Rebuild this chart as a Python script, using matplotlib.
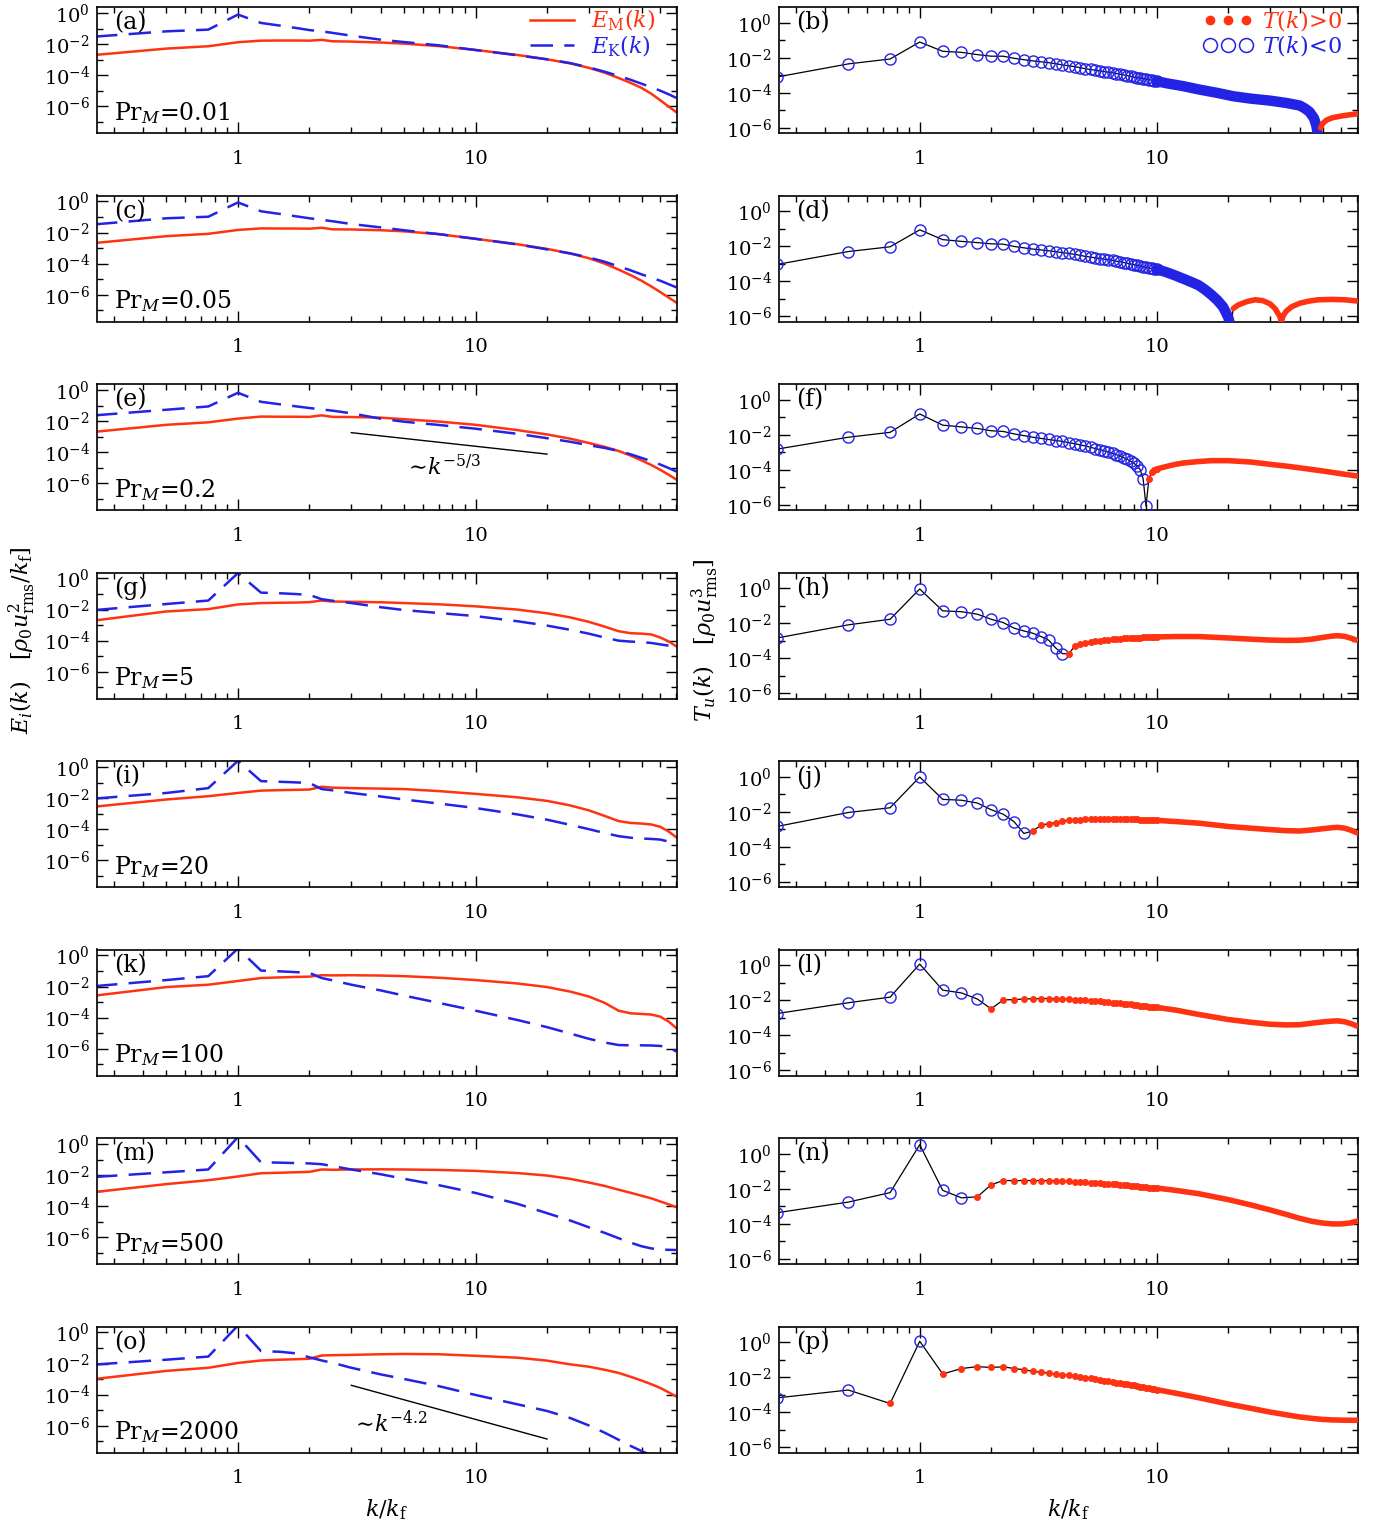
import numpy as np
import matplotlib
matplotlib.use("Agg")
import matplotlib.pyplot as plt
from matplotlib.lines import Line2D
from matplotlib.ticker import FixedLocator, FixedFormatter, LogLocator, NullFormatter, LogFormatterSciNotation

plt.rcParams['font.family'] = ['DejaVu Serif']
plt.rcParams['mathtext.fontset'] = 'dejavuserif'

RED = '#ff3311'
BLUE = '#2323e6'

# ---- left column: spectra, log10 values ----
x_spec = [0.25, 0.5, 0.75, 1, 1.25, 1.5, 1.75, 2, 2.25, 2.5, 3, 4, 5, 7, 10,
          15, 20, 25, 30, 35, 40, 45, 50, 55, 60, 65, 70]

ek_a = [-1.52, -1.18, -1.07, -0.10, -0.64, -0.81, -0.96, -1.10, -1.18, -1.28, -1.46, -1.72, -1.87, -2.08, -2.38,
        -2.72, -2.98, -3.22, -3.50, -3.78, -4.05, -4.30, -4.55, -4.78, -5.00, -5.23, -5.46]
em_a = [-2.70, -2.29, -2.14, -1.88, -1.78, -1.77, -1.77, -1.78, -1.73, -1.82, -1.84, -1.90, -1.97, -2.13, -2.38,
        -2.70, -2.98, -3.24, -3.53, -3.84, -4.18, -4.50, -4.82, -5.20, -5.62, -6.02, -6.38]
ek_c = [-1.47, -1.08, -0.98, -0.06, -0.63, -0.80, -0.95, -1.08, -1.18, -1.27, -1.45, -1.67, -1.85, -2.10, -2.40,
        -2.76, -3.08, -3.34, -3.60, -3.88, -4.17, -4.43, -4.69, -4.90, -5.10, -5.32, -5.52]
em_c = [-2.67, -2.23, -2.08, -1.83, -1.73, -1.74, -1.74, -1.75, -1.69, -1.79, -1.80, -1.85, -1.92, -2.10, -2.40,
        -2.75, -3.05, -3.34, -3.65, -4.00, -4.38, -4.74, -5.10, -5.47, -5.83, -6.18, -6.50]
ek_e = [-1.63, -1.27, -1.06, -0.18, -0.76, -0.92, -1.05, -1.16, -1.25, -1.33, -1.50, -1.85, -2.04, -2.25, -2.49,
        -2.82, -3.10, -3.33, -3.55, -3.73, -3.92, -4.14, -4.37, -4.58, -4.80, -5.02, -5.24]
em_e = [-2.69, -2.24, -2.08, -1.84, -1.71, -1.72, -1.72, -1.73, -1.63, -1.73, -1.74, -1.78, -1.88, -2.03, -2.24,
        -2.58, -2.86, -3.13, -3.41, -3.66, -3.92, -4.22, -4.53, -4.83, -5.14, -5.45, -5.76]
ek_g = [-2.03, -1.64, -1.42, 0.35, -0.91, -0.95, -1.00, -1.06, -1.33, -1.43, -1.58, -1.85, -2.03, -2.22, -2.42,
        -2.75, -3.03, -3.30, -3.55, -3.80, -4.00, -4.06, -4.09, -4.15, -4.24, -4.32, -4.45]
em_g = [-2.70, -2.12, -1.97, -1.67, -1.58, -1.56, -1.55, -1.52, -1.42, -1.48, -1.50, -1.53, -1.58, -1.66, -1.79,
        -2.00, -2.24, -2.50, -2.79, -3.10, -3.39, -3.52, -3.55, -3.60, -3.80, -4.05, -4.36]
ek_i = [-2.03, -1.67, -1.36, 0.40, -0.91, -0.95, -0.99, -1.03, -1.42, -1.50, -1.67, -1.90, -2.09, -2.35, -2.64,
        -3.05, -3.39, -3.72, -4.00, -4.25, -4.45, -4.55, -4.60, -4.63, -4.67, -4.80, -4.97]
em_i = [-2.55, -2.09, -1.88, -1.67, -1.52, -1.49, -1.47, -1.45, -1.27, -1.33, -1.36, -1.39, -1.42, -1.55, -1.73,
        -1.95, -2.18, -2.47, -2.79, -3.15, -3.48, -3.60, -3.64, -3.70, -3.85, -4.15, -4.52]
ek_k = [-1.97, -1.58, -1.33, 0.45, -0.97, -1.02, -1.07, -1.12, -1.45, -1.60, -1.88, -2.25, -2.58, -3.05, -3.55,
        -4.15, -4.61, -5.02, -5.36, -5.60, -5.76, -5.78, -5.78, -5.79, -5.82, -5.90, -6.18]
em_k = [-2.58, -2.03, -1.88, -1.64, -1.45, -1.41, -1.38, -1.36, -1.27, -1.28, -1.27, -1.29, -1.33, -1.43, -1.58,
        -1.80, -2.03, -2.32, -2.64, -3.05, -3.55, -3.72, -3.76, -3.80, -3.94, -4.25, -4.67]
ek_m = [-2.12, -1.82, -1.64, 0.45, -1.18, -1.20, -1.23, -1.25, -1.30, -1.42, -1.64, -1.95, -2.24, -2.65, -3.15,
        -3.85, -4.45, -4.92, -5.36, -5.72, -6.06, -6.35, -6.58, -6.72, -6.79, -6.81, -6.82]
em_m = [-3.09, -2.58, -2.33, -2.09, -1.88, -1.85, -1.82, -1.79, -1.64, -1.66, -1.64, -1.63, -1.64, -1.67, -1.73,
        -1.87, -2.03, -2.24, -2.48, -2.70, -2.94, -3.14, -3.33, -3.50, -3.70, -3.88, -4.06]
ek_o = [-2.06, -1.75, -1.55, 0.45, -1.20, -1.24, -1.34, -1.60, -1.80, -1.95, -2.27, -2.70, -2.99, -3.45, -4.02,
        -4.62, -5.05, -5.50, -5.98, -6.45, -6.90, -7.30, -7.63, -7.90, -8.10, -8.30, -8.50]
em_o = [-2.99, -2.47, -2.27, -1.96, -1.80, -1.75, -1.72, -1.69, -1.48, -1.46, -1.44, -1.40, -1.38, -1.40, -1.50,
        -1.62, -1.81, -2.05, -2.20, -2.40, -2.60, -2.85, -3.09, -3.33, -3.57, -3.85, -4.12]

prm_labels = ['0.01', '0.05', '0.2', '5', '20', '100', '500', '2000']

# power-law guide lines in (e) and (o)
slope_e_x, slope_e_y = [3, 20], [1.8e-3, 7.5e-5]
slope_o_x, slope_o_y = [3, 20], [4.0e-4, 1.4e-7]

# ---- right column: transfer function, log10 |T| ----
# every wavenumber k = 1..40 (kf = 4), then a sparser tail where markers merge
x_tr = np.arange(1, 41) / 4

tr_b = [-3.09, -2.34, -2.06, -1.09, -1.62, -1.68, -1.81, -1.90, -1.90, -2.02,
        -2.10, -2.17, -2.22, -2.27, -2.33, -2.40, -2.45, -2.50, -2.55, -2.62,
        -2.66, -2.70, -2.74, -2.78, -2.82, -2.85, -2.89, -2.93, -2.97, -3.01,
        -3.05, -3.09, -3.12, -3.15, -3.18, -3.21, -3.24, -3.27, -3.30, -3.33]
sg_b = '-' * 40
tx_b = [11, 13, 15, 18, 21, 25, 30, 35, 40, 42, 44, 46, 47, 48, 49, 50, 52, 55, 60, 65, 70]
tt_b = [-3.45, -3.62, -3.80, -4.00, -4.19, -4.33, -4.44, -4.57, -4.72, -4.88, -5.08, -5.45, -5.85, -6.60,
        -6.00, -5.75, -5.55, -5.42, -5.32, -5.25, -5.20]
ts_b = '-' * 14 + '+' * 7

tr_d = [-3.03, -2.29, -2.02, -1.05, -1.61, -1.71, -1.78, -1.85, -1.87, -2.00,
        -2.08, -2.15, -2.20, -2.25, -2.30, -2.35, -2.40, -2.45, -2.51, -2.57,
        -2.61, -2.65, -2.69, -2.73, -2.76, -2.80, -2.84, -2.88, -2.92, -2.96,
        -3.00, -3.04, -3.08, -3.12, -3.16, -3.20, -3.23, -3.26, -3.28, -3.30]
sg_d = '-' * 40
tx_d = [11, 12, 13, 14, 15, 16, 17, 18, 19, 19.5, 20, 20.5, 21, 22, 24, 26, 28, 30, 31.5, 33,
        33.5, 34, 35, 37, 40, 44, 48, 55, 62, 70]
tt_d = [-3.48, -3.67, -3.86, -4.04, -4.22, -4.48, -4.77, -5.08, -5.45, -5.75, -6.05, -6.60,
        -5.55, -5.35, -5.15, -5.05, -5.10, -5.28, -5.55, -6.00, -6.30, -6.00, -5.72, -5.45,
        -5.25, -5.12, -5.05, -5.03, -5.05, -5.12]
ts_d = '-' * 12 + '+' * 18

tr_f = [-2.81, -2.13, -1.85, -0.80, -1.44, -1.54, -1.63, -1.76, -1.80, -1.94,
        -2.04, -2.13, -2.20, -2.26, -2.32, -2.37, -2.44, -2.50, -2.57, -2.63,
        -2.70, -2.78, -2.84, -2.91, -2.98, -3.06, -3.13, -3.20, -3.30, -3.39,
        -3.50, -3.61, -3.78, -3.98, -4.50, -6.06, -4.54, -4.13, -4.02, -3.94]
sg_f = '-' * 36 + '+' * 4
tx_f = [11, 12, 13, 15, 17, 20, 25, 30, 35, 40, 50, 60, 70]
tt_f = [-3.80, -3.68, -3.60, -3.52, -3.47, -3.47, -3.55, -3.68, -3.78, -3.88, -4.06, -4.22, -4.35]
ts_f = '+' * 13

tr_h = [-2.83, -2.08, -1.76, -0.03, -1.28, -1.33, -1.47, -1.76, -1.95, -2.27,
        -2.43, -2.56, -2.75, -2.96, -3.41, -3.73, -3.73, -3.31, -3.20, -3.09,
        -3.05, -3.01, -2.98, -2.95, -2.93, -2.91, -2.89, -2.87, -2.86, -2.85,
        -2.84, -2.83, -2.82, -2.81, -2.80, -2.79, -2.78, -2.78, -2.77, -2.77]
sg_h = '-' * 16 + '+' * 24
tx_h = [12, 15, 20, 25, 30, 35, 40, 45, 50, 55, 58, 62, 66, 70]
tt_h = [-2.75, -2.75, -2.83, -2.90, -2.95, -2.97, -2.96, -2.90, -2.80, -2.72, -2.70, -2.74, -2.85, -2.96]
ts_h = '+' * 14

tr_j = [-2.83, -2.03, -1.76, 0.00, -1.28, -1.33, -1.49, -1.87, -2.13, -2.56,
        -3.23, -3.09, -2.75, -2.67, -2.61, -2.51, -2.48, -2.45, -2.44, -2.43,
        -2.42, -2.41, -2.41, -2.40, -2.40, -2.40, -2.40, -2.40, -2.40, -2.41,
        -2.41, -2.42, -2.43, -2.44, -2.45, -2.45, -2.46, -2.47, -2.48, -2.48]
sg_j = '-' * 11 + '+' * 29
tx_j = [12, 15, 20, 25, 30, 35, 40, 45, 50, 55, 58, 62, 66, 70]
tt_j = [-2.55, -2.64, -2.83, -2.93, -3.01, -3.07, -3.09, -3.03, -2.96, -2.90, -2.88, -2.93, -3.05, -3.20]
ts_j = '+' * 14

tr_l = [-2.75, -2.13, -1.81, 0.08, -1.41, -1.57, -1.92, -2.48, -1.97, -1.95,
        -1.92, -1.90, -1.89, -1.89, -1.90, -1.92, -1.93, -1.95, -1.97, -2.00,
        -2.02, -2.04, -2.06, -2.08, -2.10, -2.12, -2.14, -2.16, -2.18, -2.20,
        -2.22, -2.25, -2.27, -2.29, -2.31, -2.33, -2.35, -2.37, -2.38, -2.40]
sg_l = '-' * 7 + '+' * 33
tx_l = [12, 15, 20, 25, 30, 35, 40, 45, 50, 55, 58, 62, 66, 70]
tt_l = [-2.55, -2.80, -3.09, -3.25, -3.36, -3.40, -3.39, -3.30, -3.23, -3.18, -3.17, -3.22, -3.33, -3.47]
ts_l = '+' * 14

tr_n = [-3.36, -2.75, -2.21, 0.53, -2.08, -2.51, -2.45, -1.76, -1.52, -1.52,
        -1.52, -1.52, -1.52, -1.53, -1.54, -1.55, -1.57, -1.59, -1.61, -1.63,
        -1.65, -1.66, -1.68, -1.69, -1.70, -1.72, -1.74, -1.76, -1.78, -1.80,
        -1.82, -1.84, -1.86, -1.88, -1.90, -1.91, -1.92, -1.93, -1.94, -1.95]
sg_n = '-' * 6 + '+' * 34
tx_n = [12, 15, 20, 25, 30, 35, 40, 45, 50, 55, 60, 65, 70]
tt_n = [-2.08, -2.27, -2.61, -2.92, -3.20, -3.45, -3.68, -3.85, -3.95, -4.00, -4.00, -3.95, -3.84]
ts_n = '+' * 13

tr_p = [-3.17, -2.72, -3.49, 0.07, -1.80, -1.49, -1.38, -1.43, -1.39, -1.49,
        -1.56, -1.65, -1.70, -1.76, -1.80, -1.85, -1.88, -1.92, -1.97, -2.02,
        -2.06, -2.10, -2.14, -2.18, -2.22, -2.26, -2.30, -2.34, -2.37, -2.40,
        -2.43, -2.46, -2.49, -2.52, -2.55, -2.58, -2.61, -2.64, -2.67, -2.70]
sg_p = '--+-' + '+' * 36
tx_p = [12, 15, 20, 25, 30, 35, 40, 45, 50, 55, 60, 65, 70]
tt_p = [-2.90, -3.16, -3.52, -3.77, -3.98, -4.13, -4.26, -4.34, -4.40, -4.43, -4.44, -4.45, -4.45]
ts_p = '+' * 13

spectra = [(ek_a, em_a), (ek_c, em_c), (ek_e, em_e), (ek_g, em_g),
           (ek_i, em_i), (ek_k, em_k), (ek_m, em_m), (ek_o, em_o)]
transfer = [(tr_b, sg_b, tx_b, tt_b, ts_b), (tr_d, sg_d, tx_d, tt_d, ts_d),
            (tr_f, sg_f, tx_f, tt_f, ts_f), (tr_h, sg_h, tx_h, tt_h, ts_h),
            (tr_j, sg_j, tx_j, tt_j, ts_j), (tr_l, sg_l, tx_l, tt_l, ts_l),
            (tr_n, sg_n, tx_n, tt_n, ts_n), (tr_p, sg_p, tx_p, tt_p, ts_p)]
letters = 'abcdefghijklmnop'

W, H = 1380, 1526
fig = plt.figure(figsize=(W / 100, H / 100), dpi=100)


def style_axes(ax, ylim, yminor):
    ax.set_xscale('log')
    ax.set_yscale('log')
    ax.set_xlim(0.255, 70.5)
    ax.set_ylim(*ylim)
    ax.xaxis.set_major_locator(FixedLocator([1, 10]))
    ax.xaxis.set_major_formatter(FixedFormatter(['1', '10']))
    ax.xaxis.set_minor_locator(LogLocator(base=10, subs=np.arange(2, 10), numticks=20))
    ax.xaxis.set_minor_formatter(NullFormatter())
    ax.yaxis.set_major_locator(FixedLocator([1, 1e-2, 1e-4, 1e-6]))
    ax.yaxis.set_major_formatter(LogFormatterSciNotation())
    ax.yaxis.set_minor_locator(FixedLocator(yminor))
    ax.yaxis.set_minor_formatter(NullFormatter())
    ax.tick_params(which='both', direction='in', top=True, right=True, width=1)
    ax.tick_params(which='major', length=8, labelsize=14)
    ax.tick_params(which='minor', length=4)
    ax.tick_params(axis='x', pad=12)
    ax.tick_params(axis='y', pad=5)
    for s in ax.spines.values():
        s.set_linewidth(1.2)


row_h = 126
for i in range(8):
    top = 7 + 188.5 * i
    bottom = 1 - (top + row_h) / H

    # left: spectra
    ax = fig.add_axes([97 / W, bottom, 580 / W, row_h / H])
    style_axes(ax, (1.9e-8, 2.43), [1e-1, 1e-3, 1e-5, 1e-7])
    ek, em = spectra[i]
    ax.plot(x_spec, 10 ** np.array(em), color=RED, lw=1.8, label=r'$E_{\rm M}(k)$')
    ax.plot(x_spec, 10 ** np.array(ek), color=BLUE, lw=1.8, dashes=(9, 4.5), label=r'$E_{\rm K}(k)$')
    ax.text(0.03, 0.875, '(%s)' % letters[2 * i], transform=ax.transAxes, fontsize=17, va='center')
    ax.text(0.03, 0.16, r'Pr$_M$=' + prm_labels[i], transform=ax.transAxes, fontsize=17, va='center')
    if i == 0:
        ax.legend(loc='upper right', bbox_to_anchor=(0.962, 0.99), frameon=False, fontsize=16,
                  handlelength=2.0, handletextpad=0.75, borderaxespad=0, borderpad=0,
                  labelspacing=0.0, labelcolor='linecolor')
    if i == 2:
        ax.plot(slope_e_x, slope_e_y, color='k', lw=1)
        ax.text(5.0, 1.0e-5, r'$\sim\!k^{-5/3}$', fontsize=16, va='center')
    if i == 7:
        ax.plot(slope_o_x, slope_o_y, color='k', lw=1)
        ax.text(3.0, 1.3e-6, r'$\sim\!k^{-4.2}$', fontsize=16, va='center')

    # right: transfer function
    ax = fig.add_axes([779 / W, bottom, 579 / W, row_h / H])
    style_axes(ax, (5.1e-7, 8.2), [1e-1, 1e-3, 1e-5])
    tr, sg, tx, tt, ts = transfer[i]
    x = np.concatenate([x_tr, tx])
    y = 10 ** np.concatenate([tr, tt])
    s = np.array(list(sg + ts))
    ax.plot(x, y, color='k', lw=0.9, zorder=2)
    # tail: markers overlap into a band
    xb, yb, sb = x[39:], y[39:], s[39:]
    start = 0
    for j in range(1, len(sb) + 1):
        if j == len(sb) or sb[j] != sb[start]:
            if sb[start] == '-':
                ax.plot(xb[start:j], yb[start:j], color=BLUE, lw=7.5, solid_capstyle='round', zorder=3)
            else:
                ax.plot(xb[start:j], yb[start:j], color=RED, lw=4, solid_capstyle='round', zorder=3)
            start = j
    neg = s[:40] == '-'
    ax.plot(x_tr[neg], y[:40][neg], ls='none', marker='o', ms=8, mfc='none', mec=BLUE, mew=1, zorder=4)
    ax.plot(x_tr[~neg], y[:40][~neg], ls='none', marker='o', ms=4, mfc=RED, mec=RED, zorder=4)
    ax.text(0.03, 0.875, '(%s)' % letters[2 * i + 1], transform=ax.transAxes, fontsize=17, va='center')
    if i == 0:
        h_pos = Line2D([], [], ls='none', marker='o', ms=6, mfc=RED, mec=RED)
        h_neg = Line2D([], [], ls='none', marker='o', ms=10, mfc='none', mec=BLUE, mew=1.1)
        leg = ax.legend([h_pos, h_neg], [r'$T(k)\!>\!0$', r'$T(k)\!<\!0$'], loc='upper right',
                        bbox_to_anchor=(0.974, 0.99), frameon=False, fontsize=16, numpoints=3,
                        handlelength=2.2, handletextpad=0.45, borderaxespad=0, borderpad=0,
                        labelspacing=0.0)
        leg.get_texts()[0].set_color(RED)
        leg.get_texts()[1].set_color(BLUE)

fig.text(387 / W, 1 - 1510 / H, r'$k/k_{\rm f}$', ha='center', va='center', fontsize=16)
fig.text(1069 / W, 1 - 1510 / H, r'$k/k_{\rm f}$', ha='center', va='center', fontsize=16)
fig.text(22 / W, 1 - 640 / H, r'$E_i(k)\quad[\rho_0 u_{\rm rms}^2/k_{\rm f}]$',
         rotation=90, ha='center', va='center', fontsize=16)
fig.text(705 / W, 1 - 640 / H, r'$T_u(k)\quad[\rho_0 u_{\rm rms}^3]$',
         rotation=90, ha='center', va='center', fontsize=16)

fig.savefig('out.png', dpi=100)
